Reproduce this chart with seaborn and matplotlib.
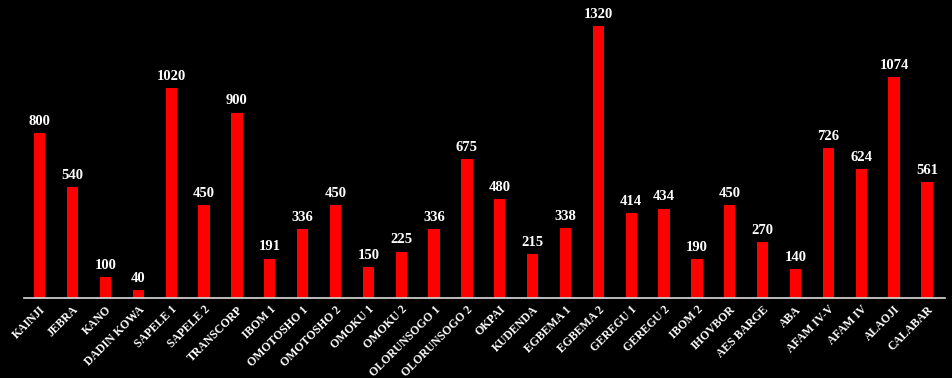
import numpy as np
import matplotlib
matplotlib.use("Agg")
import matplotlib.pyplot as plt
import pandas as pd
import seaborn as sns

# plantas y capacidad
plantas = ['KAINJI', 'JEBRA', 'KANO', 'DADIN KOWA', 'SAPELE 1', 'SAPELE 2', 'TRANSCORP',
           'IBOM 1', 'OMOTOSHO 1', 'OMOTOSHO 2', 'OMOKU 1', 'OMOKU 2', 'OLORUNSOGO 1',
           'OLORUNSOGO 2', 'OKPAI', 'KUDENDA', 'EGBEMA 1', 'EGBEMA 2', 'GEREGU 1',
           'GEREGU 2', 'IBOM 2', 'IHOVBOR', 'AES BARGE', 'ABA', 'AFAM IV-V', 'AFAM IV',
           'ALAOJI', 'CALABAR']
capacidad = [800, 540, 100, 40, 1020, 450, 900, 191, 336, 450, 150, 225, 336,
             675, 480, 215, 338, 1320, 414, 434, 190, 450, 270, 140, 726, 624,
             1074, 561]

df = pd.DataFrame({'planta': plantas, 'cap': capacidad})

sns.set_style("dark")
plt.rcParams['font.family'] = ['Liberation Serif', 'DejaVu Serif']

fig = plt.figure(figsize=(9.53, 3.78), dpi=100, facecolor='black')
ax = fig.add_axes([24/953, 80/378, 921/953, 298/378])
ax.set_facecolor('black')

sns.barplot(ax=ax, data=df, x='planta', y='cap', color='#ff0000', width=0.34,
            saturation=1, linewidth=0)

for i, v in enumerate(capacidad):
    ax.text(i, v + 25, str(v), ha='center', va='bottom', color='white',
            fontsize=10.5, weight='bold')

ax.set_xlim(-0.48, len(plantas) - 0.45)
ax.set_ylim(0, 1446)
ax.set_yticks([])
ax.set_xlabel('')
ax.set_ylabel('')
ax.grid(False)
for s in ['top', 'left', 'right']:
    ax.spines[s].set_visible(False)
ax.spines['bottom'].set_color('#dddddd')
ax.spines['bottom'].set_linewidth(1.2)
ax.tick_params(axis='x', length=0, pad=4)
ax.set_xticks(range(len(plantas)))
ax.set_xticklabels(plantas, rotation=45, ha='right', rotation_mode='anchor',
                   color='white', fontsize=8.5, weight='bold')

plt.savefig('out.png', dpi=100, facecolor='black')
